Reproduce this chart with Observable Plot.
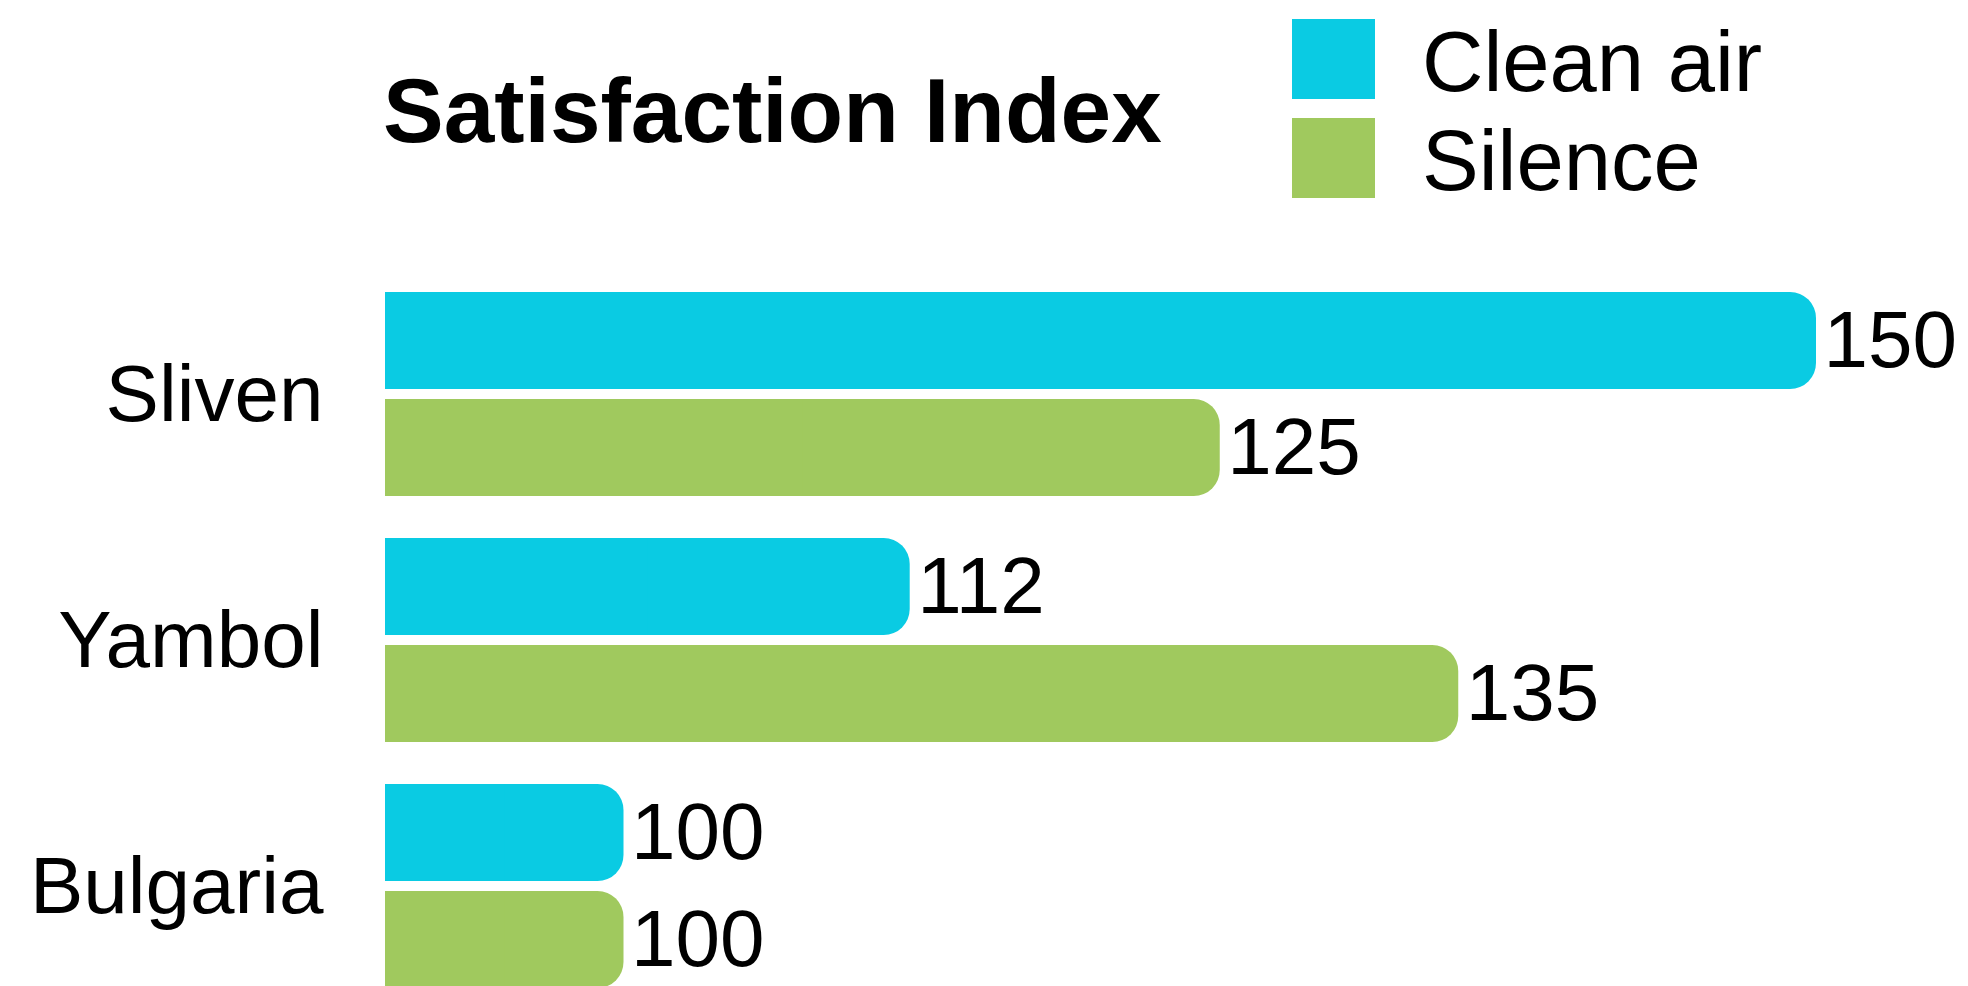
<!DOCTYPE html>
<html>
<head>
<meta charset="utf-8">
<script src="https://cdn.jsdelivr.net/npm/d3@7"></script>
<script src="https://cdn.jsdelivr.net/npm/@observablehq/plot@0.6"></script>
<style>
  html, body { margin: 0; padding: 0; background: #fff; overflow: hidden; }
  #chart svg { display: block; }
</style>
</head>
<body>
<div id="chart"></div>
<script>
// ---- data ----
const regions = ["Sliven", "Yambol", "Bulgaria"];
const seriesNames = ["Clean air", "Silence"];
const cleanAir = [150, 112, 100];
const silence = [125, 135, 100];
const seriesColors = ["#0acbe3", "#a0c95e"];
const titleText = "Satisfaction Index";
const xDomain = [90, 150];

const table = regions.flatMap((r, i) => [
  {region: r, series: seriesNames[0], value: cleanAir[i]},
  {region: r, series: seriesNames[1], value: silence[i]}
]);

const FONT = "'Liberation Sans', Arial, Helvetica, sans-serif";
const chart = document.getElementById("chart");

// ---- header: title + legend ----
const header = d3.create("svg")
  .attr("width", 1968).attr("height", 250)
  .style("font-family", FONT);

header.append("text")
  .attr("x", 383).attr("y", 142)
  .attr("font-size", 91).attr("font-weight", "bold").attr("fill", "#000")
  .text(titleText);

const legend = header.append("g");
seriesNames.forEach((name, i) => {
  const g = legend.append("g").attr("transform", `translate(1292,${19 + i * 99})`);
  g.append("rect").attr("width", 83).attr("height", 80).attr("fill", seriesColors[i]);
  g.append("text").attr("x", 130).attr("y", 72)
    .attr("font-size", 85).attr("fill", "#000").text(name);
});
chart.appendChild(header.node());

// ---- chart ----
const plot = Plot.plot({
  width: 1968,
  height: 740,
  marginLeft: 385,
  marginRight: 152,
  marginTop: 41,
  marginBottom: 0,
  style: {fontFamily: FONT, fontSize: "80px", color: "#000", background: "transparent", overflow: "visible"},
  x: {domain: xDomain, axis: null},
  y: {domain: seriesNames, axis: null, paddingInner: 0.0926, paddingOuter: 0},
  fy: {domain: regions, axis: "left", label: null, tickSize: 0, tickPadding: 62, paddingInner: 0.1667, paddingOuter: 0},
  color: {domain: seriesNames, range: seriesColors},
  marks: [
    Plot.barX(table, {x1: () => xDomain[0], x2: "value", y: "series", fy: "region", fill: "series", rx: 26}),
    Plot.barX(table, {x1: () => xDomain[0], x2: d => (d.value + xDomain[0]) / 2, y: "series", fy: "region", fill: "series"}),
    Plot.text(table, {x: "value", y: "series", fy: "region", text: d => String(d.value), textAnchor: "start", dx: 7, fill: "#000"})
  ]
});
chart.appendChild(plot);
</script>
</body>
</html>
